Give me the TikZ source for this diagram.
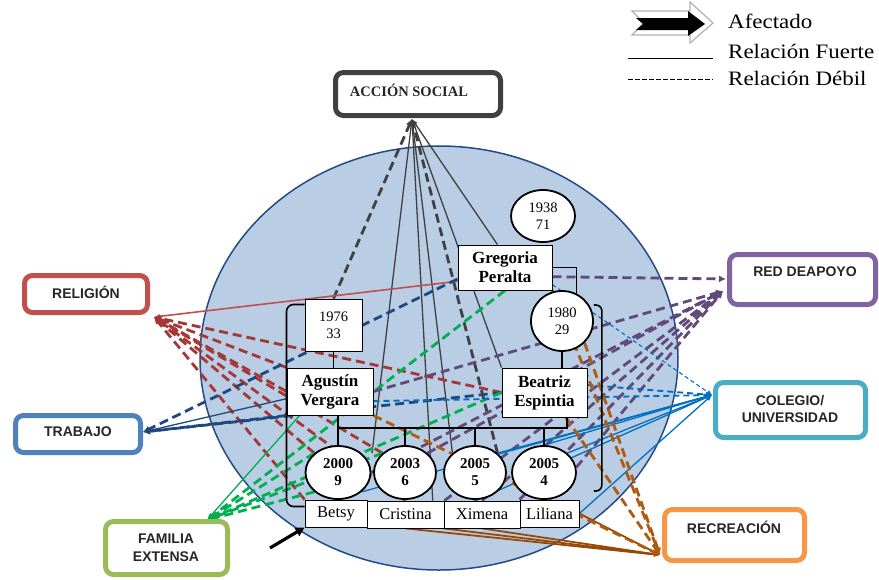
\documentclass[tikz,border=0pt]{standalone}
\usepackage{fontspec}
\newfontfamily\tms{Liberation Serif}
\newfontfamily\ars{Liberation Sans}
\newfontfamily\legfont[FakeStretch=1.12]{Liberation Serif}
\usetikzlibrary{shapes.geometric,arrows.meta,calc}
\pgfdeclarelayer{bg}
\pgfdeclarelayer{links}
\pgfsetlayers{bg,links,main}
\definecolor{asc}{RGB}{64,64,64}
\definecolor{rec}{RGB}{192,80,77}
\definecolor{recd}{RGB}{165,55,55}
\definecolor{trb}{RGB}{79,129,189}
\definecolor{trc}{RGB}{31,73,125}
\definecolor{feb}{RGB}{155,187,89}
\definecolor{fec}{RGB}{0,176,80}
\definecolor{rab}{RGB}{128,100,162}
\definecolor{rac}{RGB}{96,74,123}
\definecolor{cub}{RGB}{75,172,198}
\definecolor{cuc}{RGB}{0,112,192}
\definecolor{rcb}{RGB}{247,150,70}
\definecolor{rcc}{RGB}{152,72,7}
\definecolor{rccd}{RGB}{175,90,15}
\definecolor{bigfill}{RGB}{185,205,228}
\definecolor{bigline}{RGB}{35,75,135}
\tikzset{
  catbox/.style={draw, line width=5pt, rounded corners=8pt, fill=white, inner sep=0pt},
  cattxt/.style={font=\ars\bfseries\fontsize{14}{17}\selectfont, text=black!85, align=center, inner sep=0pt},
  fambox/.style={draw, line width=1pt, fill=white, inner sep=0pt, align=center},
  famcirc/.style={draw, ellipse, line width=1.8pt, fill=white, inner sep=0pt, align=center},
  namebox/.style={draw, line width=0.8pt, fill=white, inner sep=0pt, minimum height=27pt, font=\tms\fontsize{16.5}{18}\selectfont},
  yeartxt/.style={font=\tms\fontsize{14.5}{17}\selectfont},
  kidtxt/.style={font=\tms\bfseries\fontsize{15}{17}\selectfont},
  persontxt/.style={font=\tms\bfseries\fontsize{17}{19}\selectfont},
  lstrong/.style={line width=1.3pt, -{Latex[length=6pt,width=5pt]}},
  lweak/.style={line width=2.8pt, dash pattern=on 9pt off 5pt, -{Latex[length=7pt,width=7pt]}},
  lmid/.style={line width=1.9pt, dash pattern=on 6pt off 4pt, -{Latex[length=6pt,width=6pt]}},
  lthin/.style={line width=1.1pt, dash pattern=on 4pt off 3pt, -{Latex[length=5pt,width=5pt]}},
  famline/.style={line width=1.6pt, black},
  legtxt/.style={anchor=base west, inner sep=0pt, font=\legfont\fontsize{20.5}{24}\selectfont}
}
\begin{document}
\begin{tikzpicture}[x=1pt,y=-1pt]
\useasboundingbox (0,0) rectangle (879,579);

\begin{pgfonlayer}{bg}
\fill[white] (0,0) rectangle (879,579);
\filldraw[fill=bigfill, draw=bigline, line width=1.5pt] (439,358) ellipse [x radius=239pt, y radius=212pt];
\end{pgfonlayer}

% category boxes
\node[catbox, draw=asc, minimum width=165pt, minimum height=43pt] (as) at (418,94) {};
\node[catbox, draw=rec, minimum width=123pt, minimum height=37pt] (re) at (86,294) {};
\node[catbox, draw=trb, minimum width=125pt, minimum height=37pt] (tr) at (78,434) {};
\node[catbox, draw=feb, minimum width=122pt, minimum height=53pt] (fe) at (166.5,548) {};
\node[catbox, draw=rab, minimum width=146pt, minimum height=50pt] (ra) at (802.5,279.5) {};
\node[catbox, draw=cub, minimum width=150pt, minimum height=55pt] (cu) at (790.5,410) {};
\node[catbox, draw=rcb, minimum width=140pt, minimum height=51pt] (rc) at (734.5,535) {};

\node[inner sep=0pt, text=black!85, font=\tms\bfseries\fontsize{14.5}{16}\selectfont] (asT) at (409,90) {ACCIÓN SOCIAL};
\node[cattxt] (reT) at (86,292) {RELIGIÓN};
\node[cattxt] (trT) at (78,432) {TRABAJO};
\node[cattxt, font=\ars\bfseries\fontsize{14}{18}\selectfont] (feT) at (166,548) {FAMILIA\\EXTENSA};
\node[cattxt] (raT) at (805,272) {RED DEAPOYO};
\node[cattxt] (cuT) at (790,409) {COLEGIO/\\UNIVERSIDAD};
\node[cattxt] (rcT) at (734,527) {RECREACIÓN};

% family
\node[famcirc, yeartxt, minimum width=64pt, minimum height=52pt] (gp) at (543,216) {1938\\71};
\node[fambox, persontxt, minimum width=94pt, minimum height=45pt] (g) at (505,267.5) {Gregoria\\Peralta};
\node[famcirc, yeartxt, minimum width=62pt, minimum height=60pt] (b80) at (562,321) {1980\\29};
\node[fambox, yeartxt, minimum width=57pt, minimum height=52pt] (a76) at (333.5,325) {1976\\33};
\node[fambox, persontxt, minimum width=86pt, minimum height=47pt] (ag) at (330,391.5) {Agustín\\Vergara};
\node[fambox, persontxt, minimum width=85pt, minimum height=49pt] (be) at (544.5,392.5) {Beatriz\\Espintia};
\node[famcirc, kidtxt, minimum width=65pt, minimum height=53pt] (c1) at (338,472.5) {2000\\9};
\node[famcirc, kidtxt, minimum width=62pt, minimum height=53pt] (c2) at (405,472.5) {2003\\6};
\node[famcirc, kidtxt, minimum width=62pt, minimum height=53pt] (c3) at (475,472.5) {2005\\5};
\node[famcirc, kidtxt, minimum width=64pt, minimum height=53pt] (c4) at (544,472.5) {2005\\4};
\node[namebox, minimum width=62pt] (n1) at (336,513.5) {Betsy};
\node[namebox, minimum width=77pt] (n2) at (405.5,514.5) {Cristina};
\node[namebox, minimum width=76pt] (n3) at (482,514.5) {Ximena};
\node[namebox, minimum width=59pt] (n4) at (549.5,513.5) {Liliana};

% convergence points
\coordinate (asP) at (412,119);
\coordinate (reP) at (154,317);
\coordinate (trP) at (143,432);
\coordinate (feP) at (207,520);
\coordinate (raP) at (723,291);
\coordinate (raH) at (726,279);
\coordinate (cuP) at (712,395);
\coordinate (rcP) at (660,555);

\begin{pgfonlayer}{links}
% ACCION SOCIAL
\draw[lweak, asc] (a76.north) -- (asP);
\draw[lweak, asc] (c3.north east) -- (asP);
\draw[lstrong, asc] ($(c1.north east)!0.5!(c2.north west)$) -- (asP);
\draw[lstrong, asc] ($(n2.north)!0.7!(n2.north east)$) -- (asP);
\draw[lstrong, asc] (c3.north west) -- (asP);
\draw[lstrong, asc] ($(g.north west)!0.42!(g.north east)$) -- (asP);
\draw[lstrong, asc] (be.north west) -- (asP);
% RELIGION
\draw[lstrong, rec, line width=1.6pt] ($(g.west)!0.6!(g.south west)$) -- (reP);
\draw[lweak, recd] (be.west) -- (reP);
\draw[lweak, recd] (ag.north west) -- (reP);
\draw[lweak, recd] (ag.west) -- (reP);
\draw[lweak, recd] (c1.north west) -- (reP);
\draw[lweak, recd] (c2.north west) -- (reP);
\draw[lweak, recd] (n1.north west) -- (reP);
\draw[lweak, recd] (n2.north) -- (reP);
% TRABAJO
\draw[lstrong, trc] ($(ag.west)!0.3!(ag.south west)$) -- (trP);
\draw[lweak, trc] ($(g.west)!0.5!(g.south west)$) -- (trP);
\draw[lweak, trc] (be.west) -- (trP);
\draw[lweak, trc] (ag.south west) -- (trP);
% FAMILIA EXTENSA
\draw[lstrong, fec] ($(ag.south west)!0.15!(ag.south east)$) -- (feP);
\draw[lweak, fec] (g.south) -- (feP);
\draw[lweak, fec] (be.west) -- (feP);
\draw[lweak, fec] (c1.north west) -- (feP);
\draw[lweak, fec] (c1.south west) -- (feP);
\draw[lweak, fec] (c2.north west) -- (feP);
% RED DE APOYO
\draw[lweak, rac] ($(g.east)!0.4!(g.south east)$) -- (raH);
\draw[lweak, rac] (ag.east) -- (raP);
\draw[lweak, rac] (c1.east) -- (raP);
\draw[lweak, rac] (c2.north east) -- (raP);
\draw[lweak, rac] (n2.north east) -- (raP);
\draw[lweak, rac] (n3.north) -- (raP);
\draw[lweak, rac] (n4.north west) -- (raP);
\draw[lweak, rac] (n4.north) -- (raP);
% COLEGIO / UNIVERSIDAD
\draw[lthin, cuc] ($(g.east)!0.75!(g.south east)$) -- (cuP);
\draw[lmid, cuc] ($(ag.east)!0.4!(ag.south east)$) -- (cuP);
\draw[lmid, cuc] ($(be.east)!0.3!(be.north east)$) -- (cuP);
\draw[lstrong, cuc] (c4.north) -- (cuP);
\draw[lstrong, cuc] (c4.north east) -- (cuP);
\draw[lstrong, cuc] (n4.east) -- (cuP);
\draw[lstrong, cuc] (c3.north east) -- (cuP);
\draw[lstrong, cuc] (n2.east) -- (cuP);
\draw[lstrong, cuc] (c1.south east) -- (cuP);
% RECREACION
\draw[lstrong, rcc, line width=1.8pt] (n2.south) -- (rcP);
\draw[lstrong, rcc, line width=1.8pt] (n3.south west) -- (rcP);
\draw[lstrong, rcc, line width=1.8pt] (n3.south) -- (rcP);
\draw[lstrong, rcc, line width=1.8pt] (n4.east) -- (rcP);
\draw[lweak, rccd] (g.south east) -- (rcP);
\draw[lweak, rccd] (b80.south east) -- (rcP);
\draw[lweak, rccd] ($(be.south)!0.5!(be.south east)$) -- (rcP);
\draw[lweak, rccd] (ag.south east) -- (rcP);
\end{pgfonlayer}

% family structure
\coordinate (cl) at (338,428);
\coordinate (cr) at (567,428);
\draw[famline] (g.east) -| (b80.62);
\draw[famline] (a76.south) -- (a76.south |- ag.north);
\draw[famline] (b80.south) -- (b80.south |- be.north);
\draw[famline, rounded corners=7pt] ([yshift=-6pt]a76.north west) -- ++(-18,0) -- ++(0,202) -- ++(18,0);
\draw[famline, rounded corners=6pt] ($(b80.east)+(0,-16)$) -- ++(8,0) -- ++(0,186) -- ++(-8,0);
\draw[famline] (cl |- ag.south) -- (cl) -- (cr) -- (cr |- be.south);
\draw[famline] (c1.north |- cl) -- (c1.north);
\draw[famline] (c2.north |- cl) -- (c2.north);
\draw[famline] (c3.north |- cl) -- (c3.north);
\draw[famline] (c4.north |- cl) -- (c4.north);

% afectado arrow
\coordinate (afS) at (270,548);
\draw[line width=3.2pt, -{Triangle[length=9pt,width=9pt]}] (afS) -- (n1.south west);

% legend
\filldraw[fill=white, draw=black!30, line width=1.2pt] (632,11) -- (690,11) -- (690,2) -- (713,23) -- (690,43) -- (690,35) -- (632,35) -- (644,23) -- cycle;
\fill[black] (636,18) -- (688,18) -- (688,11) -- (705,24) -- (688,36) -- (688,30) -- (636,30) -- (643,24) -- cycle;
\draw[line width=0.8pt] (628,58) -- (713,58);
\draw[line width=0.8pt, dash pattern=on 4.5pt off 2.5pt] (628,79) -- (713,79);
\node[legtxt] (l1) at (728,28) {Afectado};
\node[legtxt] (l2) at (728,58) {Relación Fuerte};
\node[legtxt] (l3) at (728,85) {Relación Débil};
\end{tikzpicture}
\end{document}
